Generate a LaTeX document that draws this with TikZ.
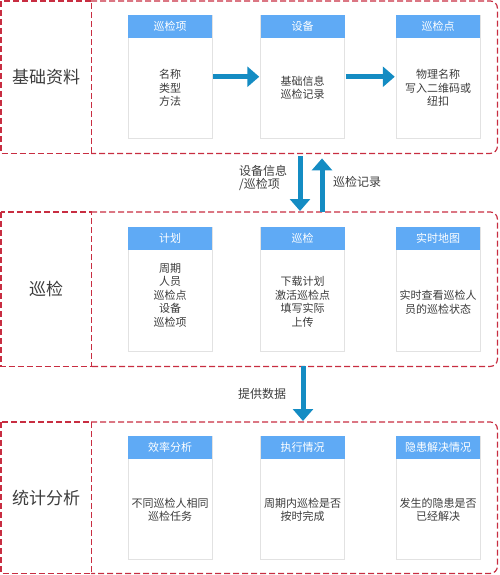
\documentclass[tikz,border=0pt]{standalone}
\usepackage{fontspec}
\setmainfont{Noto Sans CJK SC}
\usetikzlibrary{arrows.meta}
\definecolor{framered}{RGB}{200,45,65}
\definecolor{hdrblue}{RGB}{95,170,245}
\definecolor{arrblue}{RGB}{20,140,195}
\definecolor{txtgray}{RGB}{60,60,60}
\definecolor{cardline}{RGB}{226,226,226}
\tikzset{
 frameline/.style={draw=framered, line width=1.2pt, dash pattern=on 6pt off 3pt},
 areabox/.style={draw=none, inner sep=0pt, anchor=north west},
 cardbody/.style={draw=cardline, line width=0.5pt, fill=white, minimum width=84pt, inner sep=0pt},
 cardhead/.style={fill=hdrblue, text=white, minimum width=84pt, minimum height=23pt, inner sep=0pt, font=\fontsize{11}{13}\selectfont},
 bodytext/.style={text=txtgray, align=center, inner sep=0pt, font=\fontsize{11}{13.5}\selectfont},
 sectlabel/.style={text=txtgray, font=\fontsize{17}{20}\selectfont},
 flowarrow/.style={draw=arrblue, line width=5pt, -{Triangle[width=20pt,length=12pt]}},
 midlabel/.style={text=txtgray, align=left, inner sep=0pt, font=\fontsize{12}{13.5}\selectfont},
}
\newcommand\mkcard[7]{%
 \node[cardbody, minimum height=#4-#3, anchor=north] (#1) at (#2,#3) {};
 \node[cardhead, anchor=north] (#1h) at (#1.north) {#5};
 \node[bodytext] (#1t) at (#2,#6) {#7};
}
\begin{document}
\begin{tikzpicture}[x=1pt,y=-1pt]
\useasboundingbox (0,0) rectangle (499,575);
% section areas
\node[areabox, minimum width=90pt, minimum height=152pt, sectlabel] (s1l) at (1,1) {基础资料};
\node[areabox, minimum width=406pt, minimum height=152pt] (s1) at (91,1) {};
\node[areabox, minimum width=90pt, minimum height=154pt, sectlabel] (s2l) at (1,212) {巡检};
\node[areabox, minimum width=406pt, minimum height=154pt] (s2) at (91,212) {};
\node[areabox, minimum width=90pt, minimum height=151pt, sectlabel] (s3l) at (1,422) {统计分析};
\node[areabox, minimum width=406pt, minimum height=151pt] (s3) at (91,422) {};
\foreach \s in {s1,s2,s3}{
 \draw[frameline] (\s l.north west) rectangle (\s l.south east);
 \draw[frameline, rounded corners=7pt] (\s.north west) -- (\s.north east) -- (\s.south east) -- (\s.south west);
}
% cards section 1
\mkcard{a1}{170}{15}{138}{巡检项}{88}{名称\\类型\\方法}
\mkcard{a2}{302.5}{15}{138}{设备}{88}{基础信息\\巡检记录}
\mkcard{a3}{438}{15}{138}{巡检点}{88}{物理名称\\写入二维码或\\纽扣}
% cards section 2
\mkcard{b1}{170}{227}{351}{计划}{295}{周期\\人员\\巡检点\\设备\\巡检项}
\mkcard{b2}{302.5}{227}{351}{巡检}{302}{下载计划\\激活巡检点\\填写实际\\上传}
\mkcard{b3}{438}{227}{351}{实时地图}{302.5}{实时查看巡检人\\员的巡检状态}
% cards section 3
\mkcard{c1}{170}{436}{559}{效率分析}{510}{不同巡检人相同\\巡检任务}
\mkcard{c2}{302.5}{436}{559}{执行情况}{510}{周期内巡检是否\\按时完成}
\mkcard{c3}{438}{436}{559}{隐患解决情况}{510}{发生的隐患是否\\已经解决}
% horizontal arrows
\draw[flowarrow, shorten <=1pt, shorten >=1pt] (a1.east) -- (a2.west);
\draw[flowarrow, shorten <=1pt, shorten >=1pt] (a2.east) -- (a3.west);
% vertical arrows
\coordinate (dx) at (300,0);
\coordinate (ux) at (322,0);
\coordinate (px) at (303,0);
\draw[flowarrow, shorten <=3pt, shorten >=1pt] (s1.south -| dx) -- (s2.north -| dx);
\draw[flowarrow, shorten <=0pt, shorten >=5pt] (s2.north -| ux) -- (s1.south -| ux);
\draw[flowarrow, shorten <=0pt, shorten >=1pt] (s2.south -| px) -- (s3.north -| px);
% labels
\node[midlabel, anchor=west] (l1) at (239,178) {设备信息\\/巡检项};
\node[midlabel, anchor=west] (l2) at (333,182) {巡检记录};
\node[midlabel, anchor=west] (l3) at (238,394) {提供数据};
\end{tikzpicture}
\end{document}
